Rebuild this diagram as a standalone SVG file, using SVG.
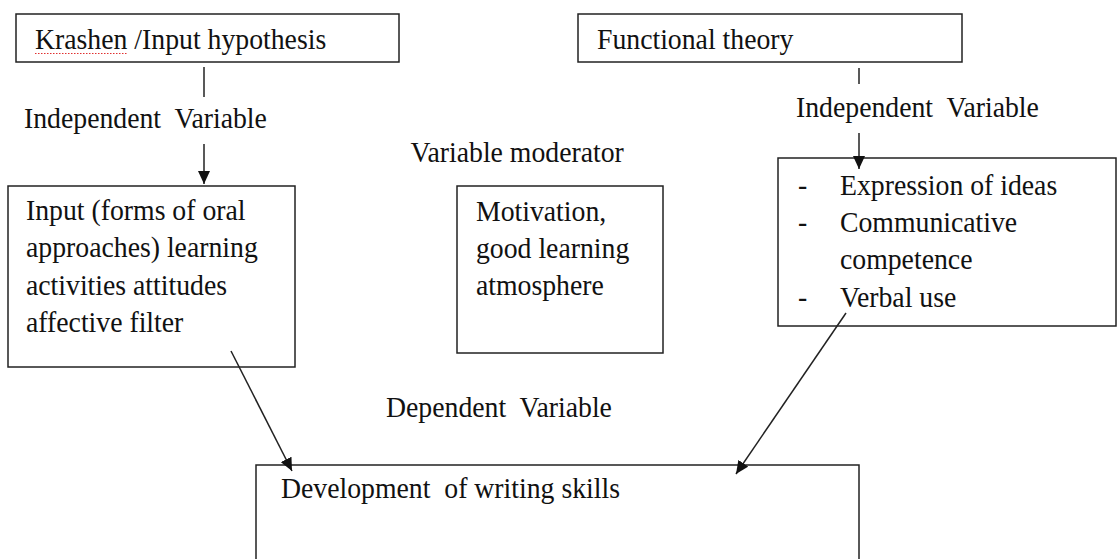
<svg xmlns="http://www.w3.org/2000/svg" width="1118" height="559" viewBox="0 0 1118 559">
<style>
.box{fill:#fff;stroke:#222;stroke-width:1.5}
.t{font-family:"Liberation Serif","Times New Roman",serif;font-size:30.5px;fill:#111;white-space:pre}
.ln{stroke:#222;stroke-width:1.5;fill:none}
</style>
<defs>
<marker id="ah" markerUnits="userSpaceOnUse" markerWidth="14" markerHeight="12" refX="13" refY="6" orient="auto">
<path d="M0,0 L13,6 L0,12 z" fill="#111"/>
</marker>
</defs>
<rect width="1118" height="559" fill="#fff"/>
<g id="krashen">
<rect class="box" x="16" y="14" width="383" height="48"/>
<g transform="scale(0.91,1)"><text class="t" x="38.46" y="49">Krashen /Input hypothesis</text></g>
<line x1="35" y1="53.5" x2="128" y2="53.5" stroke="#e03030" stroke-width="1" stroke-dasharray="1.5,1.5"/>
</g>
<g id="functional">
<rect class="box" x="578" y="14" width="384" height="48"/>
<g transform="scale(0.91,1)"><text class="t" x="656.04" y="49">Functional theory</text></g>
</g>
<g id="input">
<rect class="box" x="8" y="186" width="287" height="181"/>
<g transform="scale(0.91,1)">
<text class="t" x="28.57" y="220">Input (forms of oral</text>
<text class="t" x="28.57" y="257.5">approaches) learning</text>
<text class="t" x="28.57" y="295">activities attitudes</text>
<text class="t" x="28.57" y="332.5">affective filter</text>
</g>
</g>
<g id="moderator">
<rect class="box" x="457" y="186" width="206" height="167"/>
<g transform="scale(0.91,1)">
<text class="t" x="523.08" y="221">Motivation,</text>
<text class="t" x="523.08" y="258">good learning</text>
<text class="t" x="523.08" y="295">atmosphere</text>
</g>
</g>
<g id="functions">
<rect class="box" x="778" y="158" width="338" height="168"/>
<g transform="scale(0.91,1)">
<text class="t" x="876.92" y="195">-</text>
<text class="t" x="923.08" y="195">Expression of ideas</text>
<text class="t" x="876.92" y="232">-</text>
<text class="t" x="923.08" y="232">Communicative</text>
<text class="t" x="923.08" y="269">competence</text>
<text class="t" x="876.92" y="307">-</text>
<text class="t" x="923.08" y="307">Verbal use</text>
</g>
</g>
<g id="writing">
<rect class="box" x="256" y="465" width="603" height="130"/>
<g transform="scale(0.91,1)"><text class="t" x="308.79" y="498" xml:space="preserve">Development  of writing skills</text></g>
</g>
<g id="labels" transform="scale(0.91,1)">
<text class="t" x="26.37" y="128" xml:space="preserve">Independent  Variable</text>
<text class="t" x="874.73" y="117" xml:space="preserve">Independent  Variable</text>
<text class="t" x="451.1" y="162">Variable moderator</text>
<text class="t" x="424.18" y="417" xml:space="preserve">Dependent  Variable</text>
</g>
<g id="connectors">
<line class="ln" x1="204" y1="67" x2="204" y2="97"/>
<line class="ln" x1="204" y1="144" x2="204" y2="184" marker-end="url(#ah)"/>
<line class="ln" x1="859" y1="68" x2="859" y2="84"/>
<line class="ln" x1="859" y1="133" x2="859" y2="169" marker-end="url(#ah)"/>
<line class="ln" x1="231" y1="351" x2="292" y2="471" marker-end="url(#ah)"/>
<line class="ln" x1="846" y1="313" x2="736" y2="474" marker-end="url(#ah)"/>
</g>
</svg>
